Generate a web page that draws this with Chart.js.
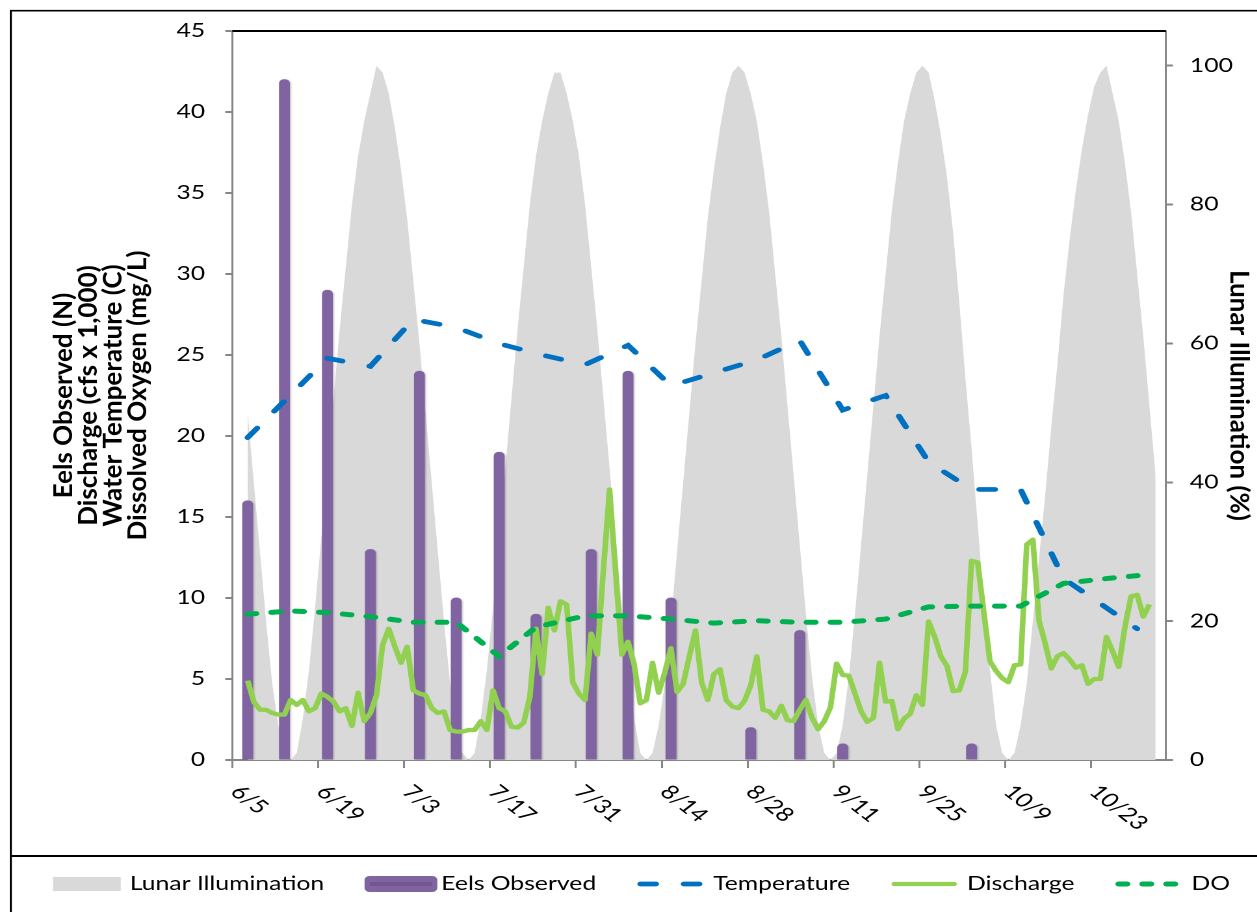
<!DOCTYPE html>
<html>
<head>
<meta charset="utf-8">
<script src="https://cdn.jsdelivr.net/npm/chart.js@4.4.1/dist/chart.umd.min.js"></script>
<style>
  html, body { margin: 0; padding: 0; background: #fff; overflow: hidden; }
  /* the source chart is stretched sideways, so the canvas is drawn narrow and widened */
  #wrap { width: 967px; height: 912px; transform: scaleX(1.3); transform-origin: 0 0; }
</style>
</head>
<body>
<div id="wrap"><canvas id="myChart" width="967" height="912"></canvas></div>
<script>
// day 0 = 6/5
const tickLabels = ['6/5', '6/19', '7/3', '7/17', '7/31', '8/14', '8/28', '9/11', '9/25', '10/9', '10/23'];

const lunar = [
  50, 40, 30, 20, 11, 5, 1, 0,
  1, 6, 13, 22, 32, 42, 52, 62, 71, 80, 87, 92, 96, 100,
  99, 96, 91, 85, 78, 69, 60, 50, 40, 30, 20, 11, 5, 1, 0,
  1, 6, 13, 22, 32, 42, 52, 62, 71, 80, 87, 92, 96, 99, 99,
  96, 92, 87, 80, 71, 62, 52, 42, 32, 22, 13, 6, 1, 0,
  1, 5, 11, 20, 30, 40, 50, 60, 69, 78, 85, 91, 96, 99, 100,
  99, 96, 92, 86, 79, 70, 61, 51, 41, 31, 21, 12, 5, 1, 0,
  1, 5, 12, 21, 31, 41, 51, 61, 70, 79, 86, 92, 96, 99, 100,
  99, 95, 90, 84, 76, 66, 55, 45, 34, 23, 13, 5, 1, 0,
  1, 5, 11, 20, 29, 38, 48, 57, 67, 75, 82, 88, 93, 97, 99, 100,
  96, 92, 86, 79, 70, 61, 51, 41
];

const eelDays = [0, 6, 13, 20, 28, 34, 41, 47, 56, 62, 69, 82, 90, 97, 118];
const eelCounts = [16, 42, 29, 13, 24, 10, 19, 9, 13, 24, 10, 2, 8, 1, 1];

const discharge = [
  4.9, 3.6, 3.1, 3.1, 2.9, 2.8, 2.8, 3.7, 3.4, 3.7,
  3.0, 3.2, 4.1, 3.9, 3.6, 3.0, 3.2, 2.1, 4.15, 2.4,
  2.9, 4.0, 7.1, 8.1, 7.0, 6.0, 7.0, 4.3, 4.1, 4.0,
  3.2, 2.9, 3.0, 1.85, 1.75, 1.75, 1.85, 1.85, 2.4, 1.85,
  4.3, 3.2, 3.0, 2.05, 2.0, 2.3, 3.9, 8.1, 5.3, 9.4,
  8.0, 9.8, 9.6, 4.8, 4.1, 3.7, 7.8, 6.5, 11.8, 16.7,
  11.5, 6.5, 7.3, 5.9, 3.5, 3.7, 6.0, 4.15, 5.4, 6.9,
  4.2, 4.7, 6.4, 8.0, 4.8, 3.7, 5.3, 5.6, 3.7, 3.3,
  3.2, 3.65, 4.6, 6.4, 3.1, 3.0, 2.6, 3.35, 2.45, 2.4,
  3.1, 3.7, 2.6, 1.9, 2.4, 3.25, 5.95, 5.25, 5.2, 4.1,
  3.0, 2.35, 2.6, 6.0, 3.6, 3.65, 1.9, 2.55, 2.85, 4.0,
  3.4, 8.55, 7.6, 6.4, 5.8, 4.25, 4.3, 5.45, 12.3, 12.2,
  9.15, 6.1, 5.5, 5.05, 4.8, 5.85, 5.9, 13.3, 13.6, 8.6,
  7.2, 5.65, 6.4, 6.6, 6.2, 5.7, 5.85, 4.7, 5.0, 5.0,
  7.6, 6.7, 5.75, 8.2, 10.1, 10.2, 8.85, 9.6
];

const tempDays = [0, 13, 20, 27, 34, 41, 48, 55, 62, 69, 76, 83, 90, 97, 104, 111, 118, 126, 133, 145];
const tempValues = [19.9, 24.8, 24.3, 27.2, 26.7, 25.7, 25.0, 24.4, 25.6, 23.1, 23.9, 24.7, 25.9, 21.6, 22.5, 18.4, 16.7, 16.7, 11.2, 8.1];

const doDays = [0, 7, 13, 20, 27, 34, 41, 47, 55, 62, 69, 76, 83, 90, 97, 104, 111, 118, 126, 133, 140, 147];
const doValues = [9.0, 9.2, 9.1, 8.85, 8.5, 8.5, 6.4, 8.2, 8.9, 8.9, 8.7, 8.45, 8.6, 8.5, 8.5, 8.7, 9.45, 9.5, 9.5, 10.9, 11.2, 11.45];

const leftTitle = ['Eels Observed (N)', 'Discharge (cfs x 1,000)', 'Water Temperature (C)', 'Dissolved Oxygen (mg/L)'];
const rightTitle = 'Lunar Illumination (%)';

const firstTick = -2.5;
const tickStep = 14;
const xMin = -2.5;
const xMax = 149.7;

const gray = '#868686';
const FONT = 'Lato';

const pairs = (xs, ys) => xs.map((x, i) => ({ x: x, y: ys[i] }));

const bordersPlugin = {
  id: 'borders',
  beforeDraw(chart) {
    const { ctx, width, height } = chart;
    ctx.save();
    ctx.fillStyle = '#fff';
    ctx.fillRect(0, 0, width, height);
    ctx.restore();
  },
  afterDraw(chart) {
    const { ctx, chartArea: { left, right, top } } = chart;
    ctx.save();
    ctx.strokeStyle = '#000';
    // outer chart frame + legend frame
    ctx.lineWidth = 1.6;
    ctx.beginPath();
    ctx.moveTo(8.3, 912);
    ctx.lineTo(8.3, 10.7);
    ctx.lineTo(chart.width + 5, 10.7);
    ctx.stroke();
    ctx.lineWidth = 2;
    ctx.beginPath();
    ctx.moveTo(8.3, 856);
    ctx.lineTo(chart.width + 5, 856);
    ctx.stroke();
    // plot area top edge
    ctx.beginPath();
    ctx.moveTo(left, top);
    ctx.lineTo(right, top);
    ctx.stroke();
    ctx.restore();
  },
};

// soft shadow on the eel columns
const barShadowPlugin = {
  id: 'barShadow',
  beforeDatasetDraw(chart, args) {
    if (args.meta.type !== 'bar') return;
    const { ctx } = chart;
    ctx.save();
    ctx.shadowColor = 'rgba(0, 0, 0, 0.28)';
    ctx.shadowBlur = 3;
    ctx.shadowOffsetX = 1.5;
    ctx.shadowOffsetY = 1;
  },
  afterDatasetDraw(chart, args) {
    if (args.meta.type !== 'bar') return;
    chart.ctx.restore();
  },
};

// axis titles: the glyphs in the source are drawn long along the text line
const titlePlugin = {
  id: 'axisTitles',
  afterDraw(chart) {
    const { ctx, chartArea: { top, bottom } } = chart;
    const midY = (top + bottom) / 2;
    ctx.save();
    ctx.font = 'bold 20px ' + FONT;
    ctx.fillStyle = '#000';
    ctx.textAlign = 'center';
    ctx.textBaseline = 'middle';
    leftTitle.forEach((line, i) => {
      ctx.save();
      ctx.translate(49.2 + i * 19, midY);
      ctx.rotate(-Math.PI / 2);
      ctx.scale(1.3, 1);
      ctx.fillText(line, 0, 0);
      ctx.restore();
    });
    ctx.save();
    ctx.translate(953, midY);
    ctx.rotate(Math.PI / 2);
    ctx.scale(1.3, 1);
    ctx.fillText(rightTitle, 0, 0);
    ctx.restore();
    ctx.restore();
  },
};

// x labels run down to the right, which chart.js won't do on its own
const dateLabelPlugin = {
  id: 'dateLabels',
  afterDraw(chart) {
    const { ctx, scales: { x } } = chart;
    ctx.save();
    ctx.font = '19.5px ' + FONT;
    ctx.fillStyle = '#000';
    ctx.textAlign = 'left';
    ctx.textBaseline = 'middle';
    tickLabels.forEach((label, i) => {
      const px = x.getPixelForValue(firstTick + i * tickStep);
      ctx.save();
      ctx.translate(px + 2, 788.5);
      ctx.rotate(Math.PI / 4);
      ctx.fillText(label, 0, 0);
      ctx.restore();
    });
    ctx.restore();
  },
};

const legendPlugin = {
  id: 'bottomLegend',
  afterDraw(chart) {
    const { ctx } = chart;
    const datasets = chart.data.datasets;
    ctx.save();
    ctx.font = '19px ' + FONT;
    ctx.textBaseline = 'middle';
    const swatchW = 52;
    const textGap = 7;
    const itemGap = 31;
    const widths = datasets.map((ds) => swatchW + textGap + ctx.measureText(ds.label).width);
    const total = widths.reduce((a, b) => a + b, 0) + itemGap * (datasets.length - 1);
    let x = 493.5 - total / 2;
    const y = 884;
    datasets.forEach((ds, i) => {
      ctx.save();
      if (ds.fill) {
        ctx.fillStyle = ds.backgroundColor;
        ctx.fillRect(x, y - 7, swatchW, 14);
      } else if (ds.type === 'bar') {
        ctx.fillStyle = ds.backgroundColor;
        ctx.beginPath();
        ctx.roundRect(x, y - 8, swatchW + 4, 16, 4);
        ctx.fill();
        ctx.fillStyle = 'rgba(0, 0, 0, 0.12)';
        ctx.fillRect(x + 4, y - 2, swatchW - 4, 4);
      } else {
        ctx.strokeStyle = ds.borderColor;
        ctx.lineWidth = ds.borderWidth;
        ctx.lineCap = 'round';
        ctx.setLineDash(ds.borderDash || []);
        ctx.beginPath();
        ctx.moveTo(x + 3, y);
        ctx.lineTo(x + swatchW - 3, y);
        ctx.stroke();
      }
      ctx.restore();
      ctx.fillStyle = '#000';
      ctx.fillText(ds.label, x + swatchW + textGap, y);
      x += widths[i] + itemGap;
    });
    ctx.restore();
  },
};

const config = {
  type: 'line',
  data: {
    datasets: [
      {
        label: 'Lunar Illumination',
        data: lunar.map((v, i) => ({ x: i, y: v })),
        yAxisID: 'y2',
        fill: 'origin',
        backgroundColor: '#D9D9D9',
        borderWidth: 0,
        pointRadius: 0,
        tension: 0,
        order: 5,
      },
      {
        type: 'bar',
        label: 'Eels Observed',
        data: pairs(eelDays, eelCounts),
        yAxisID: 'y',
        backgroundColor: '#8064A2',
        barThickness: 7.7,
        borderRadius: 4,
        order: 4,
      },
      {
        label: 'Temperature',
        data: pairs(tempDays, tempValues),
        yAxisID: 'y',
        borderColor: '#0070C0',
        borderWidth: 4.7,
        borderDash: [12, 21.4],
        borderCapStyle: 'round',
        pointRadius: 0,
        fill: false,
        tension: 0,
        order: 3,
      },
      {
        label: 'Discharge',
        data: discharge.map((v, i) => ({ x: i, y: v })),
        yAxisID: 'y',
        borderColor: '#92D050',
        borderWidth: 4.3,
        borderJoinStyle: 'round',
        pointRadius: 0,
        fill: false,
        tension: 0,
        order: 2,
      },
      {
        label: 'DO',
        data: pairs(doDays, doValues),
        yAxisID: 'y',
        borderColor: '#00B050',
        borderWidth: 5,
        borderDash: [6.5, 11.9],
        borderCapStyle: 'round',
        pointRadius: 0,
        fill: false,
        tension: 0,
        order: 1,
      },
    ],
  },
  options: {
    responsive: false,
    devicePixelRatio: 2,
    animation: false,
    layout: { padding: { left: 39.7, right: 4.5, top: 31, bottom: 56 } },
    plugins: {
      legend: { display: false },
      tooltip: { enabled: false },
    },
    scales: {
      x: {
        type: 'linear',
        offset: false,
        min: xMin,
        max: xMax,
        afterBuildTicks: (scale) => {
          scale.ticks = tickLabels.map((t, i) => ({ value: firstTick + i * tickStep }));
        },
        afterFit: (scale) => { scale.height = 96; },
        ticks: { display: false },
        grid: { offset: false, drawOnChartArea: false, drawTicks: true, tickLength: 8, color: gray, lineWidth: 1.5 },
        border: { color: gray, width: 2 },
      },
      y: {
        position: 'left',
        min: 0,
        max: 45,
        afterFit: (scale) => { scale.width = 178.7 - 39.7; },
        ticks: { stepSize: 5, color: '#000', padding: 15.5, font: { family: FONT, size: 19 } },
        grid: { drawOnChartArea: false, tickLength: 5.4, color: gray, lineWidth: 2 },
        border: { color: gray, width: 1.5 },
      },
      y2: {
        position: 'right',
        min: 0,
        max: 105,
        afterBuildTicks: (scale) => {
          scale.ticks = scale.ticks.filter((t) => t.value % 20 === 0);
        },
        afterFit: (scale) => { scale.width = 967 - 4.5 - 896.9; },
        ticks: { stepSize: 20, color: '#000', padding: 13, font: { family: FONT, size: 19 } },
        grid: { drawOnChartArea: false, tickLength: 5.4, color: gray, lineWidth: 2 },
        border: { color: gray, width: 1.5 },
      },
    },
  },
  plugins: [bordersPlugin, barShadowPlugin, titlePlugin, dateLabelPlugin, legendPlugin],
};

const ctx = document.getElementById('myChart');
new Chart(ctx, config);
</script>
</body>
</html>
